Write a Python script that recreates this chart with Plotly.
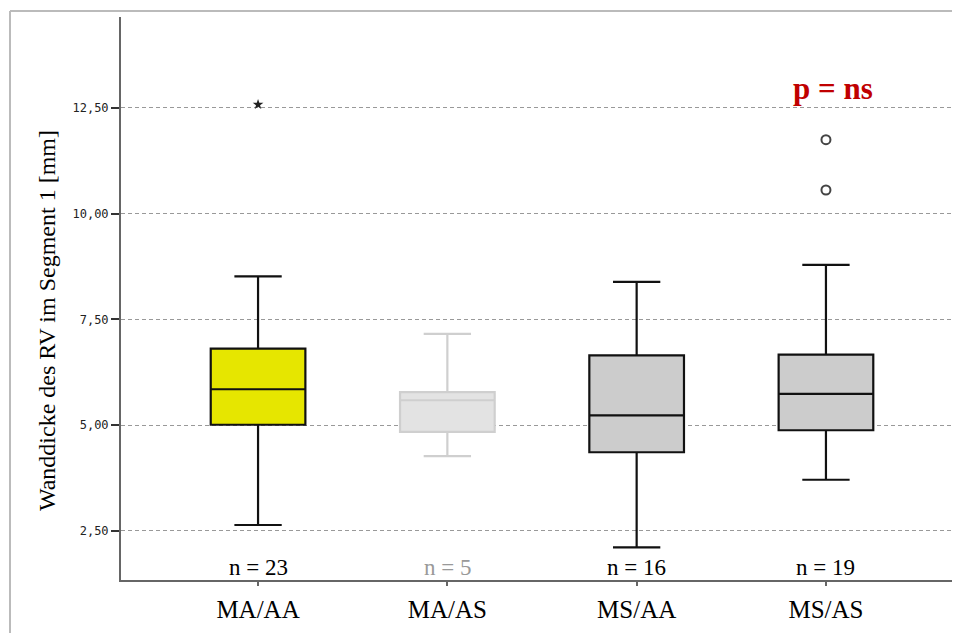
import plotly.graph_objects as go

categories = ["MA/AA", "MA/AS", "MS/AA", "MS/AS"]
q1 = [5.01, 4.84, 4.36, 4.88]
median = [5.85, 5.59, 5.23, 5.74]
q3 = [6.81, 5.78, 6.65, 6.67]
lower_whisker = [2.64, 4.27, 2.11, 3.71]
upper_whisker = [8.52, 7.16, 8.39, 8.79]
n_counts = [23, 5, 16, 19]
fill_colors = ["#e6e600", "#e3e3e3", "#cccccc", "#cccccc"]
line_colors = ["#111111", "#cfcfcf", "#111111", "#111111"]
n_colors = ["#000000", "#999999", "#000000", "#000000"]

extreme_cat = ["MA/AA"]
extreme_val = [12.58]
outlier_cat = ["MS/AS", "MS/AS"]
outlier_val = [11.75, 10.56]

y_ticks = [2.5, 5.0, 7.5, 10.0, 12.5]

# page body has an 8px margin: plot area sits at x 121..952, y 17..580
W, H = 944, 625
L, T = 113, 9
PW, PH = W - L, 563
X_RANGE = [-0.724, -0.724 + PW / 189.3]

fig = go.Figure()
for i, c in enumerate(categories):
    fig.add_trace(go.Box(
        x=[c], q1=[q1[i]], median=[median[i]], q3=[q3[i]],
        lowerfence=[lower_whisker[i]], upperfence=[upper_whisker[i]],
        fillcolor=fill_colors[i], line=dict(color=line_colors[i], width=2.2),
        width=0.5, whiskerwidth=0.5, boxpoints=False, showlegend=False,
        hoverinfo="skip",
    ))

fig.add_trace(go.Scatter(
    x=extreme_cat, y=extreme_val, mode="markers",
    marker=dict(symbol="star", size=8, color="#222222"), showlegend=False))
fig.add_trace(go.Scatter(
    x=outlier_cat, y=outlier_val, mode="markers",
    marker=dict(symbol="circle-open", size=9, color="#444444", line=dict(width=2)),
    showlegend=False))

for i, c in enumerate(categories):
    fig.add_annotation(x=c, y=1.63, text=f"n = {n_counts[i]}", showarrow=False,
                       font=dict(family="Liberation Serif", size=23, color=n_colors[i]),
                       xanchor="center", yanchor="middle")

fig.add_annotation(x="MS/AS", y=12.96, text="<b>p = ns</b>", showarrow=False,
                   xshift=7,
                   font=dict(family="Liberation Serif", size=31, color="#c00000"))

fig.add_annotation(xref="paper", yref="paper", x=(47 - 121) / PW, y=0.46,
                   text="Wanddicke des RV im Segment 1 [mm]", textangle=-90,
                   showarrow=False, xanchor="center", yanchor="middle",
                   font=dict(family="Liberation Serif", size=24, color="#000000"))

# outer frame: left and top edges only (image is cropped right/bottom)
fx0 = (10 - 121) / PW
fy1 = (580 - 11) / PH
fig.add_shape(type="line", xref="paper", yref="paper", x0=fx0, x1=fx0, y0=-0.2, y1=fy1,
              line=dict(color="#bbbbbb", width=2), layer="below")
fig.add_shape(type="line", xref="paper", yref="paper", x0=fx0, x1=1.0, y0=fy1, y1=fy1,
              line=dict(color="#bbbbbb", width=2), layer="below")

fig.update_layout(
    width=W, height=H,
    margin=dict(l=L, r=0, t=T, b=H - T - PH),
    paper_bgcolor="white", plot_bgcolor="white",
    separators=",.",
    xaxis=dict(
        type="category", categoryorder="array", categoryarray=categories,
        range=X_RANGE,
        showline=True, linecolor="#666666", linewidth=2,
        showgrid=False, ticks="outside", ticklen=4, tickcolor="#666666", tickwidth=2,
        tickfont=dict(family="Liberation Serif", size=25, color="#000000"),
        ticklabelstandoff=2,
    ),
    yaxis=dict(
        range=[1.34, 14.65], tickvals=y_ticks, tickformat=".2f",
        showline=True, linecolor="#666666", linewidth=2,
        showgrid=True, gridcolor="#999999", gridwidth=1, griddash="4px,3px",
        zeroline=False, ticks="outside", ticklen=8, tickcolor="#333333", tickwidth=2,
        tickfont=dict(family="DejaVu Sans Mono", size=12, color="#222222"),
    ),
)

fig.write_html("out.html")
